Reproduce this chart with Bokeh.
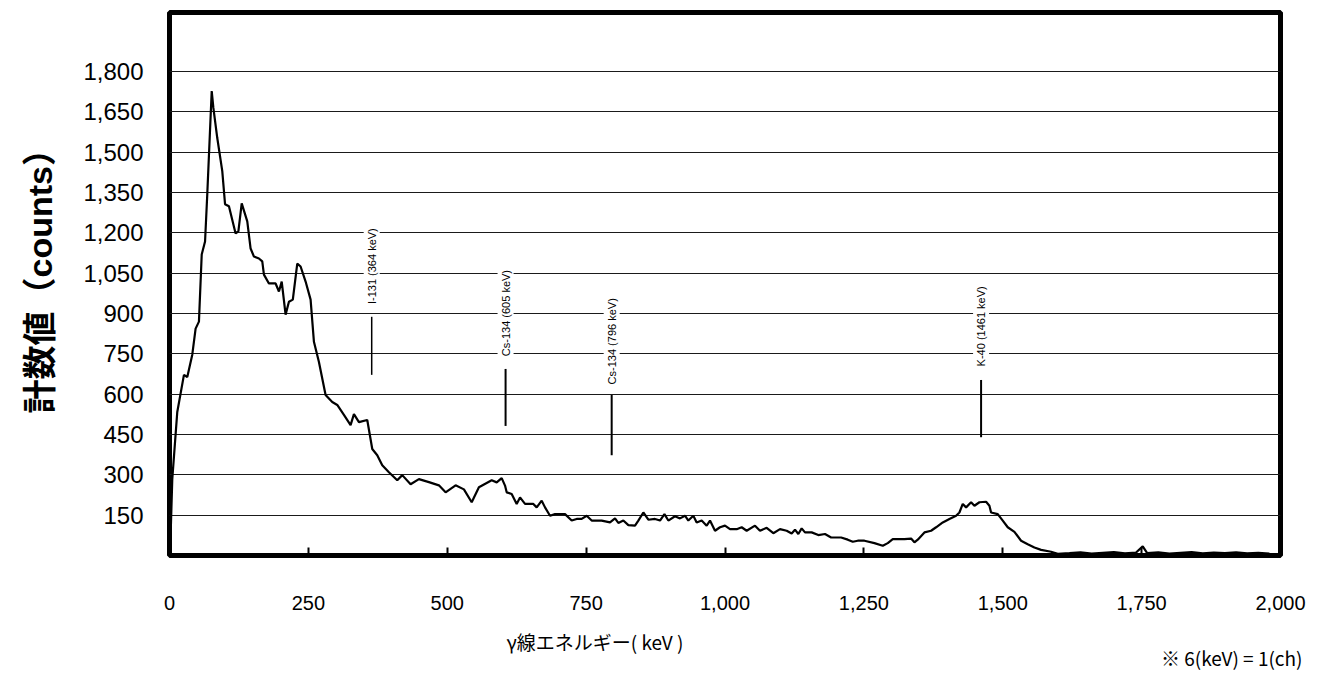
from math import pi
from bokeh.plotting import figure
from bokeh.models import Range1d, FixedTicker, NumeralTickFormatter, Label, Title
from bokeh.embed import file_html
from bokeh.resources import INLINE

# ---- data ----
energy_kev = [0, 2, 5, 14, 26, 32, 41, 47, 53, 58, 64, 68, 76, 79, 86, 95, 100, 107,
              119, 124, 130, 140, 146, 152, 161, 167, 170, 179, 191, 197, 202, 209,
              215, 222, 230, 236, 245, 254, 260, 269, 281, 293, 302, 314, 326, 332,
              341, 356, 365, 374, 383, 395, 410, 419, 434, 449, 467, 485, 497, 515,
              530, 544, 557, 580, 589, 598, 604, 607, 616, 625, 631, 640, 655, 661,
              670, 676, 685, 694, 712, 724, 733, 742, 751, 760, 778, 793, 802, 808,
              817, 826, 838, 844, 853, 862, 874, 883, 891, 898, 910, 919, 928, 934,
              943, 949, 958, 967, 973, 982, 991, 1000, 1009, 1021, 1030, 1039, 1054,
              1063, 1075, 1087, 1099, 1111, 1120, 1126, 1132, 1138, 1144, 1156, 1168,
              1180, 1191, 1209, 1221, 1230, 1239, 1251, 1269, 1284, 1293, 1302, 1323,
              1335, 1341, 1347, 1359, 1371, 1380, 1392, 1404, 1416, 1422, 1428, 1434,
              1443, 1449, 1458, 1470, 1476, 1479, 1491, 1500, 1509, 1521, 1533, 1545,
              1557, 1569, 1587, 1599, 1620, 1640, 1660, 1680, 1700, 1720, 1740, 1752,
              1760, 1780, 1800, 1820, 1840, 1860, 1880, 1900, 1920, 1940, 1960, 1980,
              2000]
counts = [0, 75, 284, 534, 672, 664, 747, 844, 870, 1120, 1168, 1344, 1728, 1665, 1553,
          1430, 1307, 1299, 1198, 1206, 1310, 1243, 1142, 1112, 1105, 1094, 1045, 1012,
          1012, 982, 1019, 896, 944, 952, 1086, 1075, 1019, 952, 795, 720, 597, 571, 560,
          523, 485, 526, 496, 504, 396, 373, 336, 310, 280, 299, 265, 284, 273, 261, 235,
          261, 246, 198, 254, 280, 272, 288, 260, 235, 229, 192, 216, 192, 192, 179, 204,
          179, 148, 154, 154, 130, 136, 136, 148, 130, 130, 123, 138, 121, 130, 113, 111,
          130, 160, 133, 136, 130, 154, 130, 146, 138, 148, 130, 148, 123, 130, 111, 130,
          92, 105, 111, 98, 98, 105, 92, 111, 92, 103, 83, 98, 92, 82, 96, 80, 101, 86,
          86, 76, 80, 67, 67, 59, 51, 55, 55, 46, 36, 46, 61, 61, 63, 49, 59, 86, 92, 105,
          123, 136, 148, 160, 192, 179, 198, 185, 198, 200, 185, 160, 154, 130, 105, 88,
          55, 42, 30, 21, 14, 6, 9, 12, 7, 10, 13, 8, 11, 34, 9, 12, 7, 10, 13, 8, 11, 9,
          12, 8, 10, 7]

peak_energy = [364, 605, 796, 1461]
peak_names = ["I-131 (364 keV)", "Cs-134 (605 keV)", "Cs-134 (796 keV)", "K-40 (1461 keV)"]
peak_line_low = [672, 482, 373, 440]
peak_line_high = [888, 694, 597, 653]
peak_label_y = [928, 734, 629, 696]

x_ticks = [0, 250, 500, 750, 1000, 1250, 1500, 1750, 2000]
y_ticks = [150, 300, 450, 600, 750, 900, 1050, 1200, 1350, 1500, 1650, 1800]

x_title = "γ線エネルギー( keV )"
y_title = "計数値（counts）"
note_text = "※ 6(keV) = 1(ch)"

# ---- figure ----
p = figure(width=1310, height=673, output_backend="svg", toolbar_location=None,
           x_range=Range1d(0, 2000), y_range=Range1d(0, 2020),
           min_border_left=166, min_border_right=30, min_border_top=12,
           min_border_bottom=118)
p.background_fill_color = "white"
p.border_fill_color = "white"
p.outline_line_color = "black"
p.outline_line_width = 5

# grid
p.xgrid.grid_line_color = None
p.ygrid.ticker = FixedTicker(ticks=y_ticks)
p.ygrid.grid_line_color = "#1a1a1a"
p.ygrid.grid_line_width = 1.2

# x axis
p.xaxis.ticker = FixedTicker(ticks=x_ticks)
p.xaxis.formatter = NumeralTickFormatter(format="0,0")
p.xaxis.axis_line_color = None
p.xaxis.major_tick_in = 8
p.xaxis.major_tick_out = 0
p.xaxis.major_tick_line_width = 2
p.xaxis.major_tick_line_color = "black"
p.xaxis.minor_tick_line_color = None
p.xaxis.major_label_standoff = 40
p.xaxis.major_label_text_font = "Liberation Sans"
p.xaxis.major_label_text_font_size = "20px"
p.xaxis.major_label_text_color = "black"

# y axis
p.yaxis.ticker = FixedTicker(ticks=y_ticks)
p.yaxis.formatter = NumeralTickFormatter(format="0,0")
p.yaxis.axis_line_color = None
p.yaxis.major_tick_in = 0
p.yaxis.major_tick_out = 0
p.yaxis.minor_tick_line_color = None
p.yaxis.major_label_standoff = 26
p.yaxis.major_label_text_font = "Liberation Sans"
p.yaxis.major_label_text_font_size = "24px"
p.yaxis.major_label_text_color = "black"

# spectrum
p.line(energy_kev, counts, line_color="black", line_width=2.2)

# peak markers
p.segment(x0=peak_energy, y0=peak_line_low, x1=peak_energy, y1=peak_line_high,
          line_color="black", line_width=[1.5, 2, 2, 2])
for e, name, ly in zip(peak_energy, peak_names, peak_label_y):
    p.add_layout(Label(x=e, y=ly, text=name, angle=pi / 2, text_align="left",
                       text_baseline="middle", text_font="Liberation Sans",
                       text_font_size="11px", text_color="black",
                       background_fill_color="white", padding=2))

# titles (as Title annotations in the side panels)
p.add_layout(Title(text=x_title, align="left", offset=337, standoff=26,
                   text_font="Noto Sans CJK JP", text_font_size="19px",
                   text_font_style="normal", text_color="black"), "below")
p.add_layout(Title(text=note_text, align="right", offset=-22, standoff=-48,
                   vertical_align="top",
                   text_font="Noto Sans CJK JP", text_font_size="19px",
                   text_font_style="normal", text_color="black"), "below")
p.add_layout(Title(text=y_title, align="left", offset=142, standoff=40,
                   vertical_align="top",
                   text_font="Liberation Sans, Noto Sans CJK JP", text_font_size="34px",
                   text_font_style="bold", text_color="black"), "left")

open("out.html", "w").write(file_html(p, INLINE))
